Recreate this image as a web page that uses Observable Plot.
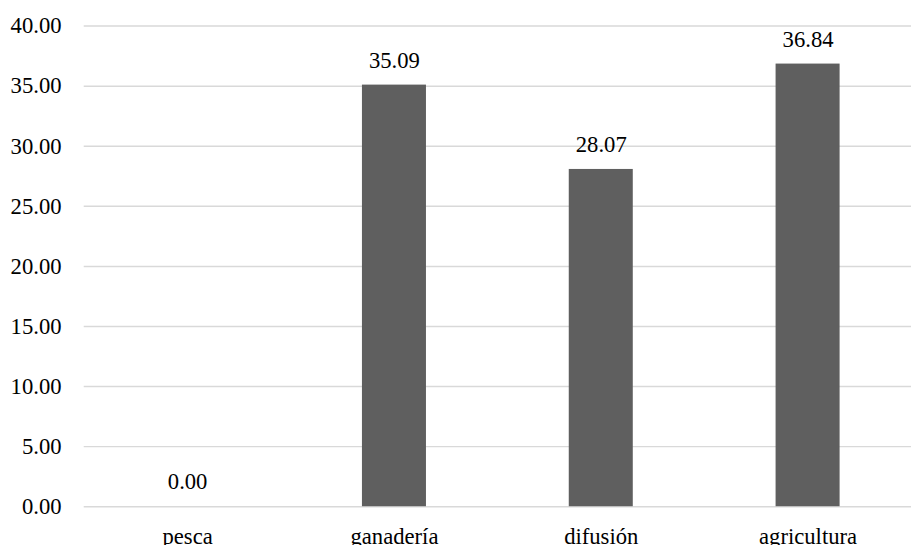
<!DOCTYPE html>
<html><head><meta charset="utf-8">
<script src="https://cdn.jsdelivr.net/npm/d3@7"></script>
<script src="https://cdn.jsdelivr.net/npm/@observablehq/plot@0.6"></script>
<style>
html,body{margin:0;padding:0;background:#fff;overflow:hidden}
#chart{width:911px;height:553px;overflow:hidden}
#chart svg, #chart svg text{font-family:"Liberation Serif","Times New Roman",serif !important}
</style></head><body><div id="chart"></div>
<script>
const categories = ["pesca", "ganadería", "difusión", "agricultura"];
const values = [0.00, 35.09, 28.07, 36.84];
const yTicks = [0, 5, 10, 15, 20, 25, 30, 35, 40];

const data = categories.map((c, i) => ({category: c, value: values[i]}));
const font = "Liberation Serif";
const chart = Plot.plot({
  width: 925, height: 553,
  marginLeft: 85, marginRight: 0, marginTop: 26, marginBottom: 39,
  style: {fontFamily: font, fontSize: "23px", color: "#000", background: "#fff"},
  x: {domain: categories, padding: 0, label: null},
  y: {domain: [0, 40], label: null},
  marks: [
    Plot.ruleY(yTicks, {stroke: "#d9d9d9", strokeWidth: 1.5}),
    Plot.barY(data, {x: "category", y: "value", fill: "#5f5f5f", insetLeft: 72.5, insetRight: 72.5}),
    Plot.text(data, {x: "category", y: "value", text: d => d.value.toFixed(2), dy: -25, fill: "#000", fontSize: 23, fontFamily: font}),
    Plot.axisY({ticks: yTicks, tickSize: 0, tickPadding: 23, tickFormat: d => d.toFixed(2), label: null, fontSize: 23, fontFamily: font, fill: "#000"}),
    Plot.axisX({tickSize: 0, tickPadding: 22, label: null, fontSize: 23, fontFamily: font, fill: "#000"})
  ]
});
document.getElementById("chart").appendChild(chart);
</script>
</body></html>
